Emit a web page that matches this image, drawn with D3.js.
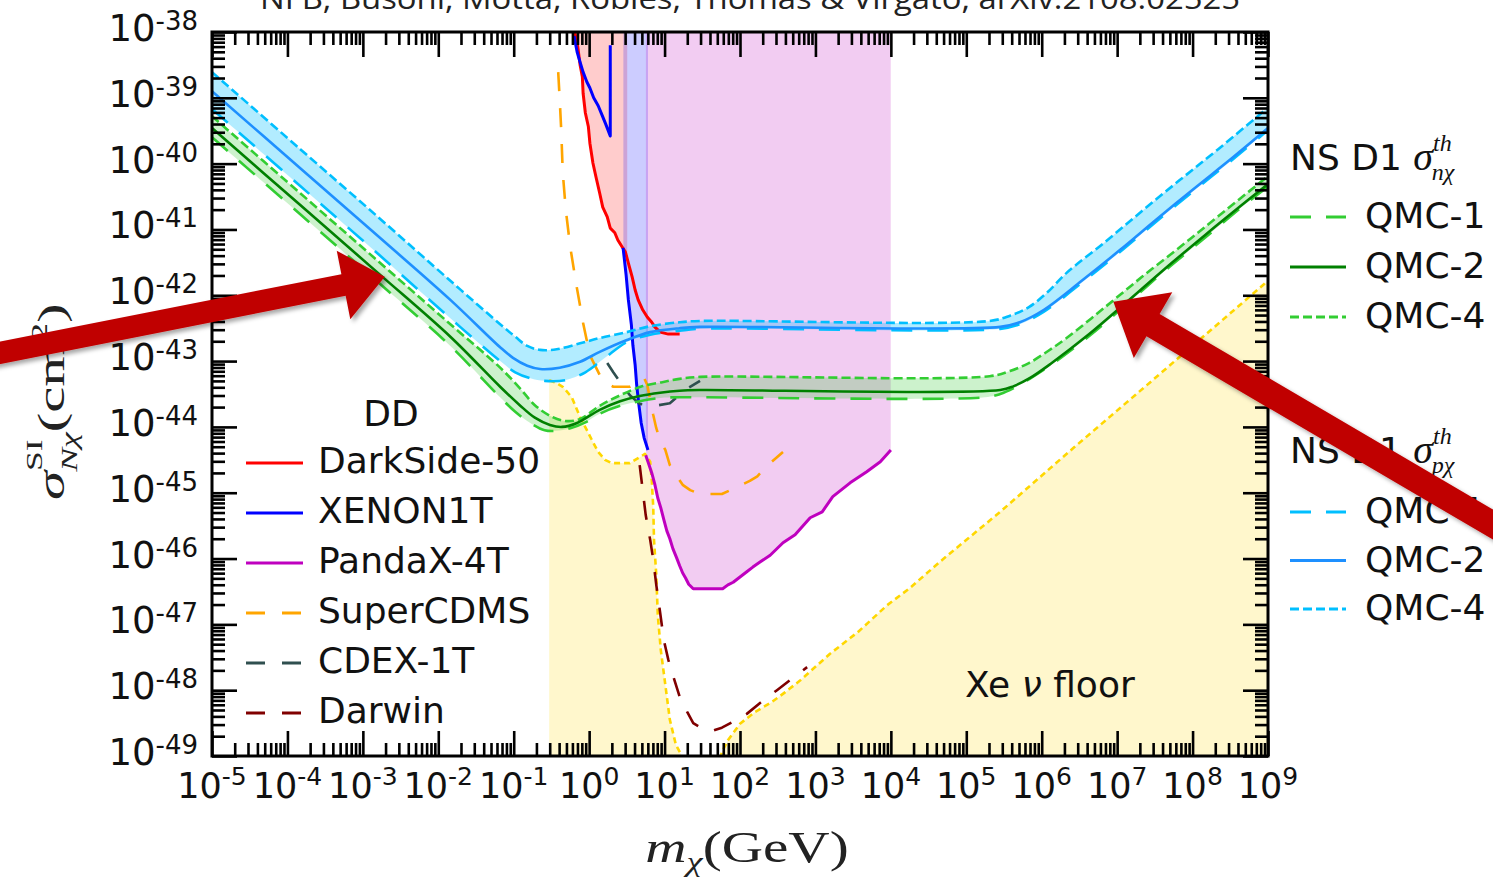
<!DOCTYPE html>
<html>
<head>
<meta charset="utf-8">
<script src="https://cdn.jsdelivr.net/npm/d3@7"></script>
<style>
  body { margin: 0; background: #fff; }
  svg { display: block; }
</style>
</head>
<body>
<svg id="chart" width="1493" height="877"></svg>
<script>
// All curves are stored as [log10(m_chi / GeV), log10(sigma / cm^2)].

const massDecades  = d3.range(-5, 10);    // 10^-5 ... 10^9 GeV
const sigmaDecades = d3.range(-49, -37);  // 10^-49 ... 10^-38 cm^2

// ---- direct-detection limits ----
const darkSide50 = [[-0.19,-38.00],[-0.15,-38.23],[-0.12,-38.50],[-0.09,-38.68],[-0.08,-38.93],[-0.05,-39.23],[-0.01,-39.44],[0.01,-39.69],[0.05,-39.99],[0.09,-40.20],[0.14,-40.45],[0.18,-40.66],[0.24,-40.81],[0.28,-40.98],[0.34,-41.05],[0.38,-41.16],[0.44,-41.27],[0.48,-41.34],[0.52,-41.51],[0.57,-41.72],[0.61,-41.92],[0.65,-42.07],[0.71,-42.22],[0.77,-42.33],[0.83,-42.41],[0.87,-42.48],[0.94,-42.56],[1.05,-42.59],[1.20,-42.59]];

const xenon1tLow = [[-0.20,-38.06],[-0.16,-38.30],[-0.12,-38.46],[-0.08,-38.61],[-0.03,-38.76],[0.01,-38.85],[0.06,-39.00],[0.12,-39.12],[0.17,-39.26],[0.22,-39.40],[0.28,-39.58],[0.28,-38.20]];

const xenon1tHigh = [[0.45,-41.28],[0.49,-41.69],[0.52,-42.07],[0.56,-42.45],[0.58,-42.76],[0.61,-43.06],[0.63,-43.36],[0.66,-43.67],[0.69,-43.94],[0.73,-44.17],[0.78,-44.35]];

const pandaX4T = [[0.75,-44.43],[0.78,-44.53],[0.83,-44.70],[0.87,-44.87],[0.91,-45.08],[0.95,-45.23],[0.99,-45.41],[1.03,-45.58],[1.07,-45.70],[1.11,-45.85],[1.16,-45.99],[1.20,-46.11],[1.24,-46.22],[1.28,-46.30],[1.32,-46.39],[1.38,-46.46],[1.77,-46.46],[1.84,-46.40],[1.91,-46.36],[2.00,-46.28],[2.09,-46.20],[2.17,-46.13],[2.27,-46.05],[2.40,-45.95],[2.57,-45.76],[2.73,-45.64],[2.93,-45.38],[3.09,-45.29],[3.23,-45.06],[3.46,-44.85],[3.68,-44.68],[3.86,-44.53],[4.00,-44.35]];

const superCDMS = [[-0.41,-38.61],[-0.39,-39.03],[-0.37,-39.49],[-0.35,-40.13],[-0.31,-40.70],[-0.25,-41.27],[-0.17,-41.84],[-0.08,-42.42],[0.01,-42.91],[0.14,-43.21],[0.22,-43.33],[0.32,-43.39],[0.54,-43.39],[0.65,-43.33],[0.73,-43.26],[0.77,-43.36],[0.81,-43.59],[0.85,-43.82],[0.89,-44.02],[0.94,-44.20],[1.01,-44.35],[1.07,-44.58],[1.15,-44.73],[1.24,-44.88],[1.34,-44.96],[1.47,-45.02],[1.76,-45.02],[1.93,-44.93],[2.13,-44.82],[2.23,-44.75],[2.36,-44.59],[2.57,-44.38]];

const cdex1T = [[0.24,-43.03],[0.32,-43.17],[0.41,-43.32],[0.54,-43.52],[0.67,-43.65],[0.87,-43.68],[1.07,-43.64],[1.27,-43.44],[1.47,-43.30]];

const darwin = [[0.67,-44.58],[0.71,-44.96],[0.75,-45.34],[0.81,-45.72],[0.85,-46.02],[0.89,-46.40],[0.94,-46.81],[0.99,-47.24],[1.05,-47.54],[1.11,-47.77],[1.20,-48.10],[1.30,-48.33],[1.38,-48.50],[1.51,-48.59],[1.63,-48.62],[1.76,-48.57],[1.91,-48.48],[2.09,-48.36],[2.27,-48.19],[2.49,-48.00],[2.66,-47.85],[2.89,-47.65]];

const xeNeutrinoFloor = [[-0.53,-43.29],[-0.44,-43.33],[-0.35,-43.39],[-0.23,-43.55],[-0.12,-43.85],[-0.03,-44.05],[0.05,-44.23],[0.12,-44.38],[0.21,-44.50],[0.30,-44.55],[0.54,-44.55],[0.67,-44.46],[0.74,-44.41],[0.81,-44.53],[0.83,-44.81],[0.85,-45.22],[0.86,-45.72],[0.89,-46.25],[0.91,-46.86],[0.95,-47.39],[1.01,-47.92],[1.07,-48.45],[1.15,-48.83],[1.23,-49.00],[1.34,-49.52],[1.63,-49.52],[1.76,-48.94],[1.84,-48.76],[2.00,-48.51],[2.20,-48.33],[2.41,-48.19],[2.60,-48.03],[2.80,-47.85],[3.19,-47.45],[3.56,-47.12],[3.95,-46.71],[4.25,-46.45],[4.65,-46.05],[5.45,-45.29],[6.43,-44.31],[7.44,-43.32],[9.00,-41.78]];

// mass ranges (log10 GeV) over which each excluded region is shaded
const darkSideShade = [-0.20, 0.505];
const xenonShade    = [0.453, 0.78];
const pandaXShade   = [0.75, 4.00];

// ---- neutron-star (NS D1) threshold cross sections ----
const nChiQMC1 = [[-5.00,-39.60],[-3.83,-40.77],[-2.77,-41.83],[-1.84,-42.77],[-1.18,-43.55],[-0.98,-43.77],[-0.78,-43.94],[-0.59,-44.05],[-0.44,-44.06],[-0.25,-44.02],[-0.05,-43.93],[0.14,-43.80],[0.41,-43.68],[0.67,-43.61],[0.94,-43.56],[1.20,-43.55],[5.25,-43.55],[5.45,-43.50],[5.63,-43.41],[5.84,-43.27],[6.12,-43.06],[6.63,-42.62],[7.13,-42.13],[7.63,-41.63],[8.14,-41.15],[8.64,-40.67],[9.00,-40.35]];
const nChiQMC2 = [[-5.00,-39.46],[-3.83,-40.63],[-2.77,-41.69],[-1.84,-42.63],[-1.18,-43.39],[-0.92,-43.67],[-0.72,-43.86],[-0.52,-43.97],[-0.36,-44.00],[-0.16,-43.94],[0.14,-43.74],[0.41,-43.61],[0.67,-43.53],[0.94,-43.48],[1.20,-43.45],[1.47,-43.44],[5.45,-43.44],[5.63,-43.38],[5.84,-43.26],[6.12,-43.04],[6.63,-42.59],[7.13,-42.10],[7.63,-41.60],[8.14,-41.11],[8.64,-40.64],[9.00,-40.31]];
const nChiQMC4 = [[-5.00,-39.28],[-3.83,-40.45],[-2.77,-41.51],[-1.84,-42.44],[-1.18,-43.10],[-0.92,-43.41],[-0.72,-43.67],[-0.52,-43.83],[-0.32,-43.91],[-0.12,-43.88],[0.14,-43.68],[0.41,-43.52],[0.71,-43.38],[0.97,-43.32],[1.20,-43.27],[1.47,-43.24],[5.31,-43.23],[5.58,-43.15],[5.83,-43.03],[6.08,-42.85],[6.33,-42.65],[6.84,-42.18],[7.33,-41.72],[7.83,-41.27],[8.34,-40.80],[9.00,-40.19]];

const pChiQMC1 = [[-5.00,-39.17],[-3.83,-40.34],[-2.77,-41.40],[-1.84,-42.35],[-1.18,-43.00],[-0.98,-43.17],[-0.78,-43.26],[-0.59,-43.30],[-0.32,-43.29],[-0.05,-43.17],[0.21,-42.95],[0.50,-42.71],[0.81,-42.60],[1.20,-42.54],[1.47,-42.51],[5.45,-42.51],[5.71,-42.44],[6.03,-42.25],[6.53,-41.81],[7.04,-41.34],[7.54,-40.86],[8.03,-40.40],[8.54,-39.93],[9.00,-39.49]];
const pChiQMC2 = [[-5.00,-38.90],[-3.83,-40.07],[-2.77,-41.13],[-1.84,-42.07],[-1.18,-42.79],[-1.01,-42.95],[-0.82,-43.07],[-0.65,-43.12],[-0.39,-43.10],[-0.12,-43.01],[0.14,-42.86],[0.50,-42.68],[0.81,-42.56],[1.20,-42.50],[1.47,-42.48],[5.45,-42.48],[5.71,-42.41],[6.03,-42.22],[6.53,-41.78],[7.04,-41.31],[7.54,-40.83],[8.03,-40.37],[8.54,-39.90],[9.00,-39.46]];
const pChiQMC4 = [[-5.00,-38.61],[-3.83,-39.78],[-2.77,-40.84],[-1.84,-41.78],[-1.18,-42.44],[-0.98,-42.63],[-0.82,-42.77],[-0.65,-42.83],[-0.43,-42.82],[-0.12,-42.73],[0.14,-42.65],[0.50,-42.56],[0.81,-42.47],[1.20,-42.41],[1.47,-42.39],[5.31,-42.39],[5.58,-42.31],[5.83,-42.18],[6.08,-41.95],[6.33,-41.66],[6.84,-41.19],[7.33,-40.72],[7.83,-40.25],[8.34,-39.78],[9.00,-39.15]];

const ddNames  = ["DarkSide-50", "XENON1T", "PandaX-4T", "SuperCDMS", "CDEX-1T", "Darwin"];
const qmcNames = ["QMC-1", "QMC-2", "QMC-4"];

// callout arrows: tip placed on a curve (data), tail given as a pixel offset from the tip
const callouts = [
  { tip: [-2.71, -41.72], tail: [-395, 78], shaft: 22, headLen: 42, headWid: 70 },
  { tip: [6.95, -42.10],  tail: [387, 227], shaft: 26, headLen: 46, headWid: 76 }
];

// ---------------------------------------------------------------
const ddStyle = {
  "DarkSide-50": { color: "#ff0000", dash: null },
  "XENON1T":     { color: "#0000ff", dash: null },
  "PandaX-4T":   { color: "#bf00bf", dash: null },
  "SuperCDMS":   { color: "#ffa500", dash: "19,17" },
  "CDEX-1T":     { color: "#2f4f4f", dash: "19,17" },
  "Darwin":      { color: "#800000", dash: "19,17" }
};
const qmcDash = { "QMC-1": "21,15", "QMC-2": null, "QMC-4": "9,4" };
const nChiColor = { "QMC-1": "#32cd32", "QMC-2": "#008000", "QMC-4": "#32cd32" };
const pChiColor = { "QMC-1": "#00bfff", "QMC-2": "#1e90ff", "QMC-4": "#00bfff" };

const SANS = "'DejaVu Sans', sans-serif";
const SERIF = "'Liberation Serif', 'DejaVu Serif', serif";

const svg = d3.select("#chart");
const plot = { left: 212, right: 1268, top: 32, bottom: 756 };

const x = d3.scaleLog().domain([1e-5, 1e9]).range([plot.left, plot.right]);
const y = d3.scaleLog().domain([1e-49, 1e-38]).range([plot.bottom, plot.top]);
const X = d => x(10 ** d[0]);
const Y = d => y(10 ** d[1]);

const defs = svg.append("defs");
defs.append("clipPath").attr("id", "plot-clip").append("rect")
  .attr("x", plot.left).attr("y", plot.top)
  .attr("width", plot.right - plot.left).attr("height", plot.bottom - plot.top);

function massClip(id, range) {
  defs.append("clipPath").attr("id", id).append("rect")
    .attr("x", x(10 ** range[0])).attr("y", plot.top)
    .attr("width", x(10 ** range[1]) - x(10 ** range[0]))
    .attr("height", plot.bottom - plot.top);
}
massClip("clip-ds", darkSideShade);
massClip("clip-xe", xenonShade);
massClip("clip-px", pandaXShade);

const shadow = defs.append("filter").attr("id", "arrow-shadow")
  .attr("x", "-20%").attr("y", "-20%").attr("width", "140%").attr("height", "140%");
shadow.append("feDropShadow").attr("dx", 3).attr("dy", 3).attr("stdDeviation", 2.2)
  .attr("flood-color", "#000").attr("flood-opacity", 0.35);

const straight = d3.line().x(X).y(Y);
const smooth = d3.line().x(X).y(Y).curve(d3.curveCatmullRom.alpha(0.5));
const belowCurve = d3.area().x(X).y0(y(1e-49)).y1(Y);
const aboveCurve = d3.area().x(X).y0(y(1e-38)).y1(Y);

const data = svg.append("g").attr("clip-path", "url(#plot-clip)");

// Xe neutrino floor
data.append("path").attr("d", belowCurve(xeNeutrinoFloor))
  .attr("fill", "#ffd700").attr("fill-opacity", 0.2);

// excluded regions
data.append("g").attr("clip-path", "url(#clip-ds)").append("path")
  .attr("d", aboveCurve(darkSide50)).attr("fill", "#ff0000").attr("fill-opacity", 0.2);
data.append("g").attr("clip-path", "url(#clip-xe)").append("path")
  .attr("d", aboveCurve(xenon1tHigh)).attr("fill", "#0000ff").attr("fill-opacity", 0.2);
data.append("g").attr("clip-path", "url(#clip-px)").append("path")
  .attr("d", aboveCurve(pandaX4T)).attr("fill", "#bf00bf").attr("fill-opacity", 0.2);

// NS bands between the QMC-4 and QMC-1 curves
function band(upper, lower) {
  return smooth(upper) + smooth(lower.slice().reverse()).replace(/^M/, "L") + "Z";
}
data.append("path").attr("d", band(pChiQMC4, pChiQMC1))
  .attr("fill", "#00bfff").attr("fill-opacity", 0.3);
data.append("path").attr("d", band(nChiQMC4, nChiQMC1))
  .attr("fill", "#32cd32").attr("fill-opacity", 0.25);

function curve(points, color, dash, width, gen) {
  data.append("path").attr("d", (gen || straight)(points))
    .attr("fill", "none").attr("stroke", color).attr("stroke-width", width || 2.6)
    .attr("stroke-dasharray", dash).attr("stroke-linejoin", "round");
}

curve(xeNeutrinoFloor, "#ffd700", "6,4", 2.6);
curve(darkSide50, ddStyle["DarkSide-50"].color, null, 3);
curve(xenon1tLow, ddStyle["XENON1T"].color, null, 3);
curve(xenon1tHigh, ddStyle["XENON1T"].color, null, 3);
curve(pandaX4T, ddStyle["PandaX-4T"].color, null, 3);
curve(superCDMS, ddStyle["SuperCDMS"].color, ddStyle["SuperCDMS"].dash, 2.6);
curve(cdex1T, ddStyle["CDEX-1T"].color, ddStyle["CDEX-1T"].dash, 2.6);
curve(darwin, ddStyle["Darwin"].color, ddStyle["Darwin"].dash, 2.6);

const pSeries = { "QMC-1": pChiQMC1, "QMC-2": pChiQMC2, "QMC-4": pChiQMC4 };
const nSeries = { "QMC-1": nChiQMC1, "QMC-2": nChiQMC2, "QMC-4": nChiQMC4 };
["QMC-1", "QMC-4", "QMC-2"].forEach(k => curve(pSeries[k], pChiColor[k], qmcDash[k], 2.6, smooth));
["QMC-1", "QMC-4", "QMC-2"].forEach(k => curve(nSeries[k], nChiColor[k], qmcDash[k], 2.6, smooth));

// ---- frame and ticks ----
const majorX = massDecades.map(k => 10 ** k);
const minorX = massDecades.slice(0, -1).flatMap(k => d3.range(2, 10).map(j => j * 10 ** k));
const majorY = sigmaDecades.map(k => 10 ** k);
const minorY = sigmaDecades.slice(0, -1).flatMap(k => d3.range(2, 10).map(j => j * 10 ** k));

function tickRow(axisFn, scale, values, len, translate) {
  svg.append("g").attr("transform", translate)
    .call(axisFn(scale).tickValues(values).tickSize(-len).tickFormat(() => ""))
    .call(g => g.select(".domain").remove())
    .call(g => g.selectAll("line").attr("stroke", "#000").attr("stroke-width", 2.6));
}
[[majorX, 25], [minorX, 13]].forEach(([v, l]) => {
  tickRow(d3.axisBottom, x, v, l, `translate(0,${plot.bottom})`);
  tickRow(d3.axisTop, x, v, l, `translate(0,${plot.top})`);
});
[[majorY, 25], [minorY, 13]].forEach(([v, l]) => {
  tickRow(d3.axisLeft, y, v, l, `translate(${plot.left},0)`);
  tickRow(d3.axisRight, y, v, l, `translate(${plot.right},0)`);
});

svg.append("rect").attr("x", plot.left).attr("y", plot.top)
  .attr("width", plot.right - plot.left).attr("height", plot.bottom - plot.top)
  .attr("fill", "none").attr("stroke", "#000").attr("stroke-width", 3);

// ---- tick labels ----
const expText = k => (k < 0 ? "-" + Math.abs(k) : String(k));

svg.append("g").selectAll("text").data(sigmaDecades).join("text")
  .attr("x", plot.left - 14).attr("y", k => y(10 ** k) + 9)
  .attr("text-anchor", "end").attr("font-family", SANS).attr("font-size", 37).attr("fill", "#111")
  .call(t => {
    t.append("tspan").text("10");
    t.append("tspan").attr("dy", -11).attr("font-size", 26).text(k => expText(k));
  });

svg.append("g").selectAll("text").data(massDecades).join("text")
  .attr("x", k => x(10 ** k)).attr("y", plot.bottom + 42)
  .attr("text-anchor", "middle").attr("font-family", SANS).attr("font-size", 35).attr("fill", "#111")
  .call(t => {
    t.append("tspan").text("10");
    t.append("tspan").attr("dy", -13).attr("font-size", 25).text(k => expText(k));
  });

// ---- axis titles ----
const xt = svg.append("text")
  .attr("transform", `translate(${(plot.left + plot.right) / 2 + 7},862) scale(1.3,1)`)
  .attr("text-anchor", "middle").attr("font-family", SERIF).attr("font-size", 44).attr("fill", "#222");
xt.append("tspan").attr("font-style", "italic").text("m");
xt.append("tspan").attr("font-style", "italic").attr("font-size", 28).attr("dy", 9).text("χ");
xt.append("tspan").attr("dy", -9).text("(GeV)");

const yt = svg.append("text")
  .attr("transform", "translate(64,500) rotate(-90) scale(1.55,1)")
  .attr("font-family", SERIF).attr("font-size", 38).attr("fill", "#222");
yt.append("tspan").attr("font-style", "italic").text("σ");
yt.append("tspan").attr("font-size", 23).attr("dy", -22).text("SI");
yt.append("tspan").attr("font-size", 23).attr("font-style", "italic").attr("dx", -21).attr("dy", 35).text("Nχ");
yt.append("tspan").attr("dy", -13).text("(cm");
yt.append("tspan").attr("font-size", 23).attr("dy", -17).text("2");
yt.append("tspan").attr("dy", 17).text(")");

// ---- header ----
svg.append("text").attr("x", 750).attr("y", 9).attr("text-anchor", "middle")
  .attr("font-family", "'Open Sans', sans-serif").attr("font-size", 30).attr("fill", "#222")
  .attr("textLength", 980).attr("lengthAdjust", "spacingAndGlyphs")
  .text("NFB, Busoni, Motta, Robles, Thomas & Virgato, arXiv:2108.02525");

// ---- in-plot annotation ----
const floorLabel = svg.append("text").attr("x", 965).attr("y", 697)
  .attr("font-family", SANS).attr("font-size", 36).attr("fill", "#111");
floorLabel.append("tspan").text("Xe ");
floorLabel.append("tspan").attr("font-style", "italic").text("ν");
floorLabel.append("tspan").text(" floor");

// ---- DD legend ----
const ddLeg = { x0: 246, x1: 303, textX: 318, titleX: 391, titleY: 426, first: 473, step: 50 };
svg.append("text").attr("x", ddLeg.titleX).attr("y", ddLeg.titleY).attr("text-anchor", "middle")
  .attr("font-family", SANS).attr("font-size", 36).attr("fill", "#111").text("DD");
const ddRows = svg.append("g").selectAll("g").data(ddNames).join("g")
  .attr("transform", (d, i) => `translate(0,${ddLeg.first + i * ddLeg.step})`);
ddRows.append("line").attr("x1", ddLeg.x0).attr("x2", ddLeg.x1).attr("y1", -10).attr("y2", -10)
  .attr("stroke", d => ddStyle[d].color).attr("stroke-width", 3)
  .attr("stroke-dasharray", d => ddStyle[d].dash);
ddRows.append("text").attr("x", ddLeg.textX).attr("font-family", SANS).attr("font-size", 36)
  .attr("fill", "#111").text(d => d);

// ---- NS legends ----
function nsLegend(cfg) {
  const t = svg.append("text").attr("x", cfg.x0).attr("y", cfg.titleY)
    .attr("font-family", SANS).attr("font-size", 36).attr("fill", "#111");
  t.append("tspan").text("NS D1 ");
  t.append("tspan").attr("font-family", SERIF).attr("font-style", "italic").attr("font-size", 40).text("σ");
  t.append("tspan").attr("font-family", SERIF).attr("font-style", "italic").attr("font-size", 24)
    .attr("dy", -19).text("th");
  t.append("tspan").attr("font-family", SERIF).attr("font-style", "italic").attr("font-size", 24)
    .attr("dx", -20).attr("dy", 29).text(cfg.sub);
  const rows = svg.append("g").selectAll("g").data(qmcNames).join("g")
    .attr("transform", (d, i) => `translate(0,${cfg.first + i * cfg.step})`);
  rows.append("line").attr("x1", cfg.x0).attr("x2", cfg.x1).attr("y1", -11).attr("y2", -11)
    .attr("stroke", d => cfg.colors[d]).attr("stroke-width", 3)
    .attr("stroke-dasharray", d => qmcDash[d]);
  rows.append("text").attr("x", cfg.textX).attr("font-family", SANS).attr("font-size", 36)
    .attr("fill", "#111").text(d => d);
}
nsLegend({ x0: 1290, x1: 1346, textX: 1365, titleY: 170, first: 228, step: 50, sub: "nχ", colors: nChiColor });
nsLegend({ x0: 1290, x1: 1346, textX: 1365, titleY: 463, first: 523, step: 48.5, sub: "pχ", colors: pChiColor });

// ---- callout arrows ----
function arrowPoints(c) {
  const tx = X(c.tip), ty = Y(c.tip);
  const sx = tx + c.tail[0], sy = ty + c.tail[1];
  const len = Math.hypot(tx - sx, ty - sy);
  const ux = (tx - sx) / len, uy = (ty - sy) / len;
  const nx = -uy, ny = ux;
  const bx = tx - ux * c.headLen, by = ty - uy * c.headLen;
  const w = c.shaft / 2, h = c.headWid / 2;
  return [
    [sx + nx * w, sy + ny * w], [bx + nx * w, by + ny * w], [bx + nx * h, by + ny * h],
    [tx, ty],
    [bx - nx * h, by - ny * h], [bx - nx * w, by - ny * w], [sx - nx * w, sy - ny * w]
  ];
}
svg.append("g").attr("filter", "url(#arrow-shadow)")
  .selectAll("path").data(callouts).join("path")
  .attr("d", c => "M" + arrowPoints(c).map(p => p.join(",")).join("L") + "Z")
  .attr("fill", "#c00000");
</script>
</body>
</html>
